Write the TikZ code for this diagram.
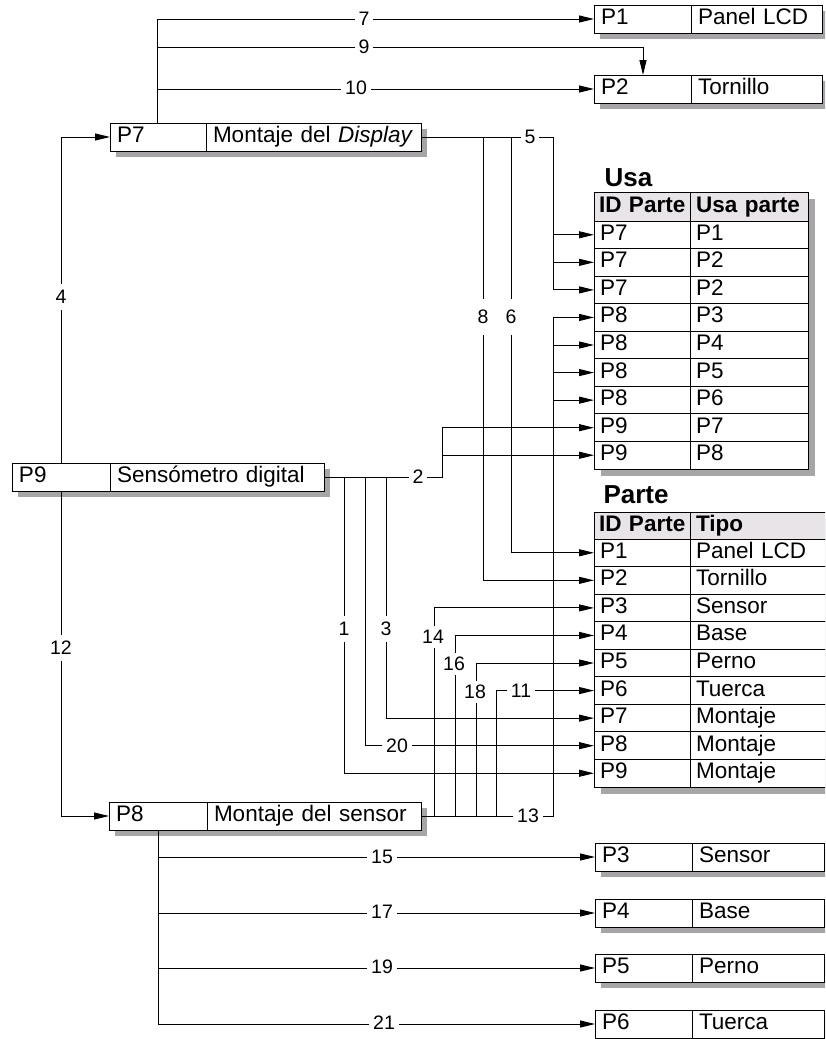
\documentclass[tikz,border=0pt]{standalone}
\usepackage{fontspec}
\setmainfont{Liberation Sans}
\usetikzlibrary{arrows.meta,shadows}
\definecolor{shadowc}{RGB}{168,165,168}
\definecolor{headc}{RGB}{232,228,232}
\begin{document}
\begin{tikzpicture}[x=1pt,y=-1pt,
  every node/.style={font=\fontsize{22.5}{27}\selectfont},
  base/.style={draw, line width=1pt, fill=white, anchor=north west, outer sep=0pt,
    inner ysep=0pt, text height=16pt, text depth=5pt, align=left},
  cell/.style={base, inner xsep=7pt, minimum height=28pt,
    general shadow={fill=shadowc, shadow xshift=6pt, shadow yshift=-6pt}},
  tcell/.style={base, inner xsep=6pt, minimum height=27.56pt,
    general shadow={fill=shadowc, shadow xshift=7pt, shadow yshift=-7pt}},
  thead/.style={tcell, fill=headc, font=\fontsize{22.5}{27}\selectfont\bfseries},
  ttitle/.style={anchor=base west, font=\fontsize{26}{30}\selectfont\bfseries},
  lbl/.style={fill=white, inner xsep=4pt, inner ysep=5pt, font=\fontsize{19.5}{22}\selectfont},
  arr/.style={-{Triangle[length=15pt,width=7pt]}, line width=1pt},
]
\path[use as bounding box] (0,0) rectangle (825,1039);
\clip (0,0) rectangle (825,1039);
\fill[white] (0,0) rectangle (825,1039);

% ---------- boxes ----------
\node[cell,text width=83pt] (p1a) at (594,5) {P1};
\node[cell,text width=117pt] (p1b) at (p1a.north east) {Panel LCD};
\node[cell,text width=83pt] (p2a) at (594,75) {P2};
\node[cell,text width=117pt] (p2b) at (p2a.north east) {Tornillo};

\node[cell,text width=82pt] (p7a) at (110,123) {P7};
\node[cell,text width=201pt] (p7b) at (p7a.north east) {Montaje del \textit{Display}};

\node[cell,text width=84pt] (p9a) at (12,463) {P9};
\node[cell,text width=200pt] (p9b) at (p9a.north east) {Sensómetro digital};

\node[cell,text width=84pt] (p8a) at (109,802) {P8};
\node[cell,text width=200pt] (p8b) at (p8a.north east) {Montaje del sensor};

\node[cell,text width=83pt] (b3a) at (595,843) {P3};
\node[cell,text width=118pt] (b3b) at (b3a.north east) {Sensor};
\node[cell,text width=83pt] (b4a) at (595,899) {P4};
\node[cell,text width=118pt] (b4b) at (b4a.north east) {Base};
\node[cell,text width=83pt] (b5a) at (595,954) {P5};
\node[cell,text width=118pt] (b5b) at (b5a.north east) {Perno};
\node[cell,text width=83pt] (b6a) at (595,1010) {P6};
\node[cell,text width=118pt] (b6b) at (b6a.north east) {Tuerca};

% ---------- table Usa ----------
\node[ttitle] (usat) at (601,186) {Usa};
\node[thead,inner xsep=5pt,text width=86pt,minimum height=29pt] (u0a) at (594,192) {\mbox{ID Parte}};
\node[thead,text width=106pt,minimum height=29pt] (u0b) at (u0a.north east) {\mbox{Usa parte}};
\node[tcell,text width=84pt] (u1a) at (u0a.south west) {P7};
\node[tcell,text width=106pt] (u1b) at (u1a.north east) {P1};
\node[tcell,text width=84pt] (u2a) at (u1a.south west) {P7};
\node[tcell,text width=106pt] (u2b) at (u2a.north east) {P2};
\node[tcell,text width=84pt] (u3a) at (u2a.south west) {P7};
\node[tcell,text width=106pt] (u3b) at (u3a.north east) {P2};
\node[tcell,text width=84pt] (u4a) at (u3a.south west) {P8};
\node[tcell,text width=106pt] (u4b) at (u4a.north east) {P3};
\node[tcell,text width=84pt] (u5a) at (u4a.south west) {P8};
\node[tcell,text width=106pt] (u5b) at (u5a.north east) {P4};
\node[tcell,text width=84pt] (u6a) at (u5a.south west) {P8};
\node[tcell,text width=106pt] (u6b) at (u6a.north east) {P5};
\node[tcell,text width=84pt] (u7a) at (u6a.south west) {P8};
\node[tcell,text width=106pt] (u7b) at (u7a.north east) {P6};
\node[tcell,text width=84pt] (u8a) at (u7a.south west) {P9};
\node[tcell,text width=106pt] (u8b) at (u8a.north east) {P7};
\node[tcell,text width=84pt] (u9a) at (u8a.south west) {P9};
\node[tcell,text width=106pt] (u9b) at (u9a.north east) {P8};

% ---------- table Parte ----------
\node[ttitle] (partet) at (600,503) {Parte};
\node[thead,inner xsep=5pt,text width=86pt,minimum height=27pt] (t0a) at (594,512) {\mbox{ID Parte}};
\node[thead,text width=138pt,minimum height=27pt] (t0b) at (t0a.north east) {Tipo};
\node[tcell,text width=84pt] (t1a) at (t0a.south west) {P1};
\node[tcell,text width=138pt] (t1b) at (t1a.north east) {Panel LCD};
\node[tcell,text width=84pt] (t2a) at (t1a.south west) {P2};
\node[tcell,text width=138pt] (t2b) at (t2a.north east) {Tornillo};
\node[tcell,text width=84pt] (t3a) at (t2a.south west) {P3};
\node[tcell,text width=138pt] (t3b) at (t3a.north east) {Sensor};
\node[tcell,text width=84pt] (t4a) at (t3a.south west) {P4};
\node[tcell,text width=138pt] (t4b) at (t4a.north east) {Base};
\node[tcell,text width=84pt] (t5a) at (t4a.south west) {P5};
\node[tcell,text width=138pt] (t5b) at (t5a.north east) {Perno};
\node[tcell,text width=84pt] (t6a) at (t5a.south west) {P6};
\node[tcell,text width=138pt] (t6b) at (t6a.north east) {Tuerca};
\node[tcell,text width=84pt] (t7a) at (t6a.south west) {P7};
\node[tcell,text width=138pt] (t7b) at (t7a.north east) {Montaje};
\node[tcell,text width=84pt] (t8a) at (t7a.south west) {P8};
\node[tcell,text width=138pt] (t8b) at (t8a.north east) {Montaje};
\node[tcell,text width=84pt] (t9a) at (t8a.south west) {P9};
\node[tcell,text width=138pt] (t9b) at (t9a.north east) {Montaje};

% ---------- connectors ----------
% from P7 to P1 / P2
\draw[arr] ([xshift=47pt]p7a.north west) |- (p1a.west);
\draw[arr] ([xshift=47pt]p7a.north west) |- ([xshift=49pt,yshift=28pt]p2a.north west) -- ([xshift=49pt]p2a.north west);
\draw[arr] ([xshift=47pt]p7a.north west) |- (p2a.west);
% 5
\draw[arr] (p7b.east) -| ([xshift=-41pt]u3a.west) -- (u3a.west);
\draw[arr] ([xshift=-41pt]u1a.west) -- (u1a.west);
\draw[arr] ([xshift=-41pt]u2a.west) -- (u2a.west);
% 8, 6
\draw[arr] ([xshift=62pt]p7b.east) |- (t2a.west);
\draw[arr] ([xshift=90pt]p7b.east) |- (t1a.west);
% 4, 12
\draw[arr] ([xshift=49pt]p9a.north west) |- (p7a.west);
\draw[arr] ([xshift=49pt]p9a.south west) |- (p8a.west);
% 2
\draw[arr] (p9b.east) -| ([xshift=-152pt]u8a.west) -- (u8a.west);
\draw[arr] ([xshift=-152pt]u9a.west) -- (u9a.west);
% 1, 20, 3
\draw[arr] ([xshift=20pt]p9b.east) |- (t9a.west);
\draw[arr] ([xshift=41pt]p9b.east) |- (t8a.west);
\draw[arr] ([xshift=62pt]p9b.east) |- (t7a.west);
% 13
\draw[arr] (p8b.east) -| ([xshift=-41pt]u4a.west) -- (u4a.west);
\draw[arr] ([xshift=-41pt]u5a.west) -- (u5a.west);
\draw[arr] ([xshift=-41pt]u6a.west) -- (u6a.west);
\draw[arr] ([xshift=-41pt]u7a.west) -- (u7a.west);
% 14, 16, 18, 11
\draw[arr] ([xshift=13pt]p8b.east) |- (t3a.west);
\draw[arr] ([xshift=34pt]p8b.east) |- (t4a.west);
\draw[arr] ([xshift=55pt]p8b.east) |- (t5a.west);
\draw[arr] ([xshift=75pt]p8b.east) |- (t6a.west);
% 15, 17, 19, 21
\draw[arr] ([xshift=49pt]p8a.south west) |- (b3a.west);
\draw[arr] ([xshift=49pt]p8a.south west) |- (b4a.west);
\draw[arr] ([xshift=49pt]p8a.south west) |- (b5a.west);
\draw[arr] ([xshift=49pt]p8a.south west) |- (b6a.west);

% ---------- labels ----------
\node[lbl] (l7) at (364,19) {7};
\node[lbl] (l9) at (364,47) {9};
\node[lbl] (l10) at (356,88) {10};
\node[lbl] (l5) at (530,137) {5};
\node[lbl,inner ysep=6pt] (l4) at (61,297) {4};
\node[lbl,inner ysep=11pt] (l8) at (483,317) {8};
\node[lbl,inner ysep=11pt] (l6) at (511,317) {6};
\node[lbl] (l2) at (418,477) {2};
\node[lbl,inner ysep=6pt] (l12) at (61,648) {12};
\node[lbl,inner ysep=6pt] (l1) at (344,629) {1};
\node[lbl,inner ysep=6pt] (l3) at (386,629) {3};
\node[lbl,inner ysep=4pt] (l14) at (433,637) {14};
\node[lbl,inner ysep=4pt] (l16) at (454,664) {16};
\node[lbl,inner ysep=4pt] (l18) at (475,692) {18};
\node[lbl] (l11) at (521,691) {11};
\node[lbl] (l20) at (397,746) {20};
\node[lbl] (l13) at (528,816) {13};
\node[lbl] (l15) at (382,857) {15};
\node[lbl] (l17) at (382,912) {17};
\node[lbl] (l19) at (382,967) {19};
\node[lbl] (l21) at (384,1023) {21};
\end{tikzpicture}
\end{document}
